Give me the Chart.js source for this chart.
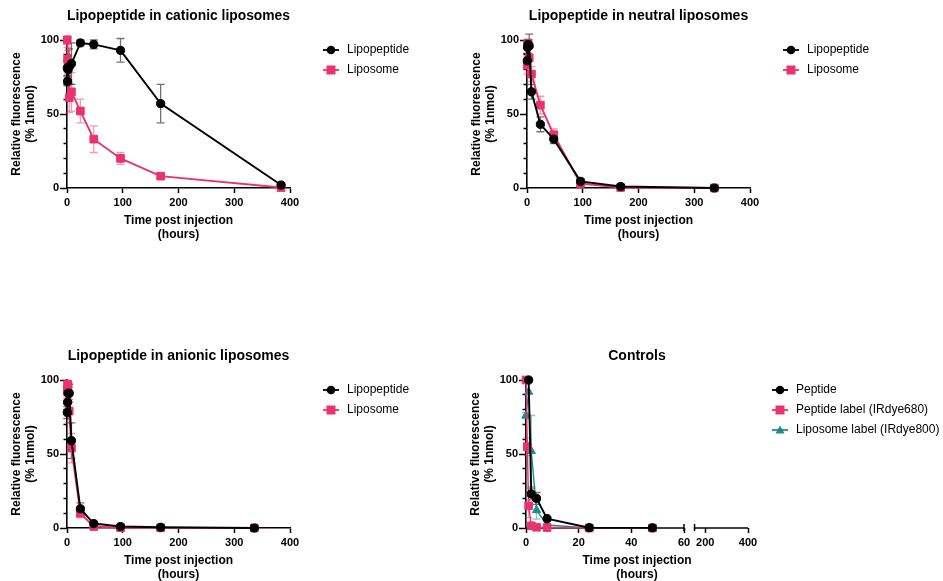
<!DOCTYPE html>
<html>
<head>
<meta charset="utf-8">
<script src="https://cdn.jsdelivr.net/npm/chart.js@4.4.1/dist/chart.umd.min.js"></script>
<style>
  body { margin: 0; background: #fff; width: 943px; height: 581px; position: relative; overflow: hidden; }
  canvas { position: absolute; }
</style>
</head>
<body>
<canvas id="cationic" width="470" height="250" style="left:0px;top:0px"></canvas>
<canvas id="neutral" width="470" height="250" style="left:460px;top:0px"></canvas>
<canvas id="anionic" width="470" height="250" style="left:0px;top:340px"></canvas>
<canvas id="controls" width="484" height="250" style="left:459px;top:340px"></canvas>
<script>
// time points (hours)
const hoursCationic = [0.5, 1, 2, 4, 8, 24, 48, 96, 168, 384];
const hours = [0.5, 1, 2, 4, 8, 24, 48, 96, 168, 336];
const hoursControls = [0, 0.5, 1, 2, 4, 8, 24, 48];

// cationic liposomes
const cationicLipopeptide = [81, 72, 80, 82, 84, 98, 97, 93, 57, 2];
const cationicLipopeptideSD = [5, 3, 10, 12, 14, 2, 3, 8, 13, 1];
const cationicLiposome = [100, 87, 85, 61, 65, 52, 33, 20, 8, 0.3];
const cationicLiposomeSD = [3, 8, 8, 10, 13, 8, 9, 4, 1.5, 0.5];

// neutral liposomes
const neutralLipopeptide = [86, 95, 97, 96, 65, 43, 33, 4.5, 1, 0];
const neutralLipopeptideSD = [5, 4, 3, 8, 5, 5, 3, 2, 0.5, 0.3];
const neutralLiposome = [83, 97, 98, 88, 77, 56, 36, 3, 0.3, 0];
const neutralLiposomeSD = [6, 3, 2, 10, 5, 6, 4, 1.5, 0.3, 0.2];

// anionic liposomes
const anionicLipopeptide = [78, 85, 91, 91, 59, 13, 3, 1, 0.5, 0];
const anionicLipopeptideSD = [4, 5, 5, 6, 12, 4, 1, 0.5, 0.3, 0.2];
const anionicLiposome = [93, 97, 96, 79, 54, 10, 1, 0.2, 0.1, 0];
const anionicLiposomeSD = [5, 3, 3, 8, 10, 3, 0.5, 0.2, 0.1, 0.1];

// controls
const peptide = [null, null, 100, 23, 20, 6.3, 0.2, 0.1];
const peptideSD = [0, 0, 0, 4, 4, 1, 0, 0];
const peptideLabel = [100, 55, 15, 1.5, 0.5, 0.3, 0, 0];
const peptideLabelSD = [0, 6, 8, 1, 0.3, 0.2, 0, 0];
const liposomeLabel = [76, null, 92, 52, 12, 2, 0, 0];
const liposomeLabelSD = [2, 0, 0, 24, 6, 1, 0, 0];

const xTicks = [0, 100, 200, 300, 400];
const xTicksControls = [0, 20, 40, 60, 200, 400];
const yTicks = [0, 50, 100];

const PINK = "#e8336d", TEAL = "#1f8c8c";
const FONT = "'Liberation Sans', Arial, sans-serif";

// broken x axis of the controls panel: 0-60, then 150-400 squeezed
const axisBreak = { lowMax: 60, highMin: 150, highMax: 400, gap: 4, highSpan: 20.3 };
function toAxis(v) {
  if (v <= axisBreak.lowMax) return v;
  return axisBreak.lowMax + axisBreak.gap +
    (v - axisBreak.highMin) * axisBreak.highSpan / (axisBreak.highMax - axisBreak.highMin);
}

function icon(color, shape) {
  const c = document.createElement("canvas");
  c.width = 20; c.height = 12;
  const g = c.getContext("2d");
  g.strokeStyle = color; g.fillStyle = color; g.lineWidth = 1.8;
  g.beginPath(); g.moveTo(2, 6); g.lineTo(18, 6); g.stroke();
  g.beginPath();
  if (shape === "rect") g.rect(5.5, 1.5, 9, 9);
  else if (shape === "triangle") { g.moveTo(10, 1.5); g.lineTo(14.5, 9.5); g.lineTo(5.5, 9.5); g.closePath(); }
  else g.arc(10, 6, 4.3, 0, Math.PI * 2);
  g.fill();
  return c;
}

function series(label, xs, ys, sd, color, shape, sdColor, width) {
  return {
    label: label,
    data: xs.map((x, i) => ({ x: x, y: ys[i] })),
    sd: sd,
    sdColor: sdColor,
    legendIcon: icon(color, shape),
    borderColor: color,
    backgroundColor: color,
    pointBackgroundColor: color,
    pointBorderColor: color,
    pointBorderWidth: 1,
    pointStyle: shape,
    pointRadius: shape === "rect" ? 5.4 : shape === "triangle" ? 4.8 : 4.1,
    borderWidth: width || 1.9,
    spanGaps: true,
    clip: false,
    tension: 0,
  };
}

// mean +/- SD bars, drawn under the markers
const errorBars = {
  id: "errorBars",
  beforeDatasetsDraw(chart) {
    const ctx = chart.ctx, yS = chart.scales.y;
    chart.data.datasets.forEach((ds, di) => {
      const meta = chart.getDatasetMeta(di);
      ctx.save();
      ctx.strokeStyle = ds.sdColor;
      ctx.lineWidth = 1.3;
      meta.data.forEach((pt, i) => {
        const d = ds.data[i], e = ds.sd[i];
        if (d.y == null || !e) return;
        const top = yS.getPixelForValue(d.y + e);
        const bot = yS.getPixelForValue(Math.max(d.y - e, 0));
        ctx.beginPath();
        ctx.moveTo(pt.x, top); ctx.lineTo(pt.x, bot);
        ctx.moveTo(pt.x - 4, top); ctx.lineTo(pt.x + 4, top);
        ctx.moveTo(pt.x - 4, bot); ctx.lineTo(pt.x + 4, bot);
        ctx.stroke();
      });
      ctx.restore();
    });
  },
};

// fixed legend width and offset
const legendPlacer = {
  id: "legendPlacer",
  beforeUpdate(chart, args, opts) {
    const lg = chart.legend;
    if (!lg || lg._placed) return;
    lg._placed = true;
    const fit = lg.fit, draw = lg.draw;
    lg.fit = function () { fit.call(this); this.width = opts.width; };
    lg.draw = function () {
      this.ctx.save();
      this.ctx.translate(opts.dx, opts.dy);
      draw.call(this);
      this.ctx.restore();
    };
  },
};

// axis line of the controls panel, in two pieces
const brokenAxis = {
  id: "brokenAxis",
  beforeDatasetsDraw(chart) {
    const x = chart.scales.x, ctx = chart.ctx, y0 = chart.chartArea.bottom;
    ctx.save();
    ctx.strokeStyle = "#000";
    ctx.lineWidth = 1.5;
    [[0, axisBreak.lowMax], [toAxis(axisBreak.highMin), toAxis(axisBreak.highMax)]].forEach(([a, b]) => {
      ctx.beginPath();
      ctx.moveTo(x.getPixelForValue(a) - 0.75, y0);
      ctx.lineTo(x.getPixelForValue(b), y0);
      ctx.stroke();
    });
    [axisBreak.lowMax, toAxis(axisBreak.highMin)].forEach((v) => {
      const p = x.getPixelForValue(v);
      ctx.beginPath(); ctx.moveTo(p, y0 - 4); ctx.lineTo(p, y0 + 3); ctx.stroke();
    });
    ctx.restore();
  },
};

function yScale() {
  return {
    type: "linear",
    min: 0,
    max: 100,
    afterFit: (s) => { s.width = 67; },
    border: { color: "#000", width: 1.6 },
    grid: {
      drawOnChartArea: false,
      tickLength: 7,
      tickColor: "#000",
      tickWidth: 1.5,
      tickBorderDash: (c) => (c.tick && c.tick.value % 50 ? [0, 3.5, 20, 0] : []),
    },
    ticks: {
      stepSize: 10,
      autoSkip: false,
      padding: 1,
      color: "#000",
      font: { family: FONT, size: 11, weight: "bold" },
      callback: (v) => (yTicks.includes(v) ? v : ""),
    },
    title: {
      display: true,
      text: ["Relative fluorescence", "(% 1nmol)"],
      color: "#000",
      font: { family: FONT, size: 12, weight: "bold" },
      padding: { top: 9, bottom: 0 },
    },
  };
}

function xScale(tickValues, broken) {
  return {
    type: "linear",
    min: 0,
    max: broken ? toAxis(axisBreak.highMax) : 400,
    afterFit: (s) => { s.height = 56; },
    afterBuildTicks: (s) => {
      s.ticks = tickValues.map((v) => ({ value: broken ? toAxis(v) : v }));
    },
    border: { display: !broken, color: "#000", width: 1.6 },
    grid: { drawOnChartArea: false, tickLength: 5, tickColor: "#000", tickWidth: 1.5 },
    ticks: {
      autoSkip: false,
      maxRotation: 0,
      padding: 3,
      color: "#000",
      font: { family: FONT, size: 11, weight: "bold" },
      callback: (v, i) => tickValues[i],
    },
    title: {
      display: true,
      text: ["Time post injection", "(hours)"],
      color: "#000",
      font: { family: FONT, size: 12, weight: "bold" },
      padding: { top: 0, bottom: 2 },
    },
  };
}

function makeChart(id, title, datasets, opts) {
  const plugins = [errorBars, legendPlacer];
  if (opts.broken) plugins.push(brokenAxis);
  return new Chart(id, {
    type: "line",
    data: { datasets: datasets },
    plugins: plugins,
    options: {
      responsive: false,
      animation: false,
      devicePixelRatio: 1,
      events: [],
      layout: { padding: { left: 0, top: 0, right: 0, bottom: 6 } },
      scales: {
        x: xScale(opts.ticks, opts.broken),
        y: yScale(),
      },
      plugins: {
        tooltip: { enabled: false },
        title: {
          display: true,
          text: title,
          fullSize: false,
          color: "#000",
          font: { family: FONT, size: 14, weight: "bold" },
          padding: { top: 8, bottom: 15.2 },
        },
        legend: {
          position: "right",
          align: "start",
          fullSize: false,
          labels: {
            usePointStyle: true,
            pointStyleWidth: 20,
            padding: 8,
            color: "#000",
            font: { family: FONT, size: 12 },
            generateLabels: (chart) =>
              Chart.defaults.plugins.legend.labels.generateLabels(chart).map((item) => {
                item.pointStyle = chart.data.datasets[item.datasetIndex].legendIcon;
                return item;
              }),
          },
        },
        legendPlacer: opts.legend,
      },
    },
  });
}

const BLACK_SD = "rgba(0,0,0,0.55)", PINK_SD = "rgba(232,51,109,0.5)", TEAL_SD = "rgba(31,140,140,0.5)";

makeChart("cationic", "Lipopeptide in cationic liposomes", [
  series("Lipopeptide", hoursCationic, cationicLipopeptide, cationicLipopeptideSD, "#000", "circle", BLACK_SD),
  series("Liposome", hoursCationic, cationicLiposome, cationicLiposomeSD, PINK, "rect", PINK_SD),
], { ticks: xTicks, legend: { width: 180, dx: 23, dy: -4 } });

makeChart("neutral", "Lipopeptide in neutral liposomes", [
  series("Lipopeptide", hours, neutralLipopeptide, neutralLipopeptideSD, "#000", "circle", BLACK_SD),
  series("Liposome", hours, neutralLiposome, neutralLiposomeSD, PINK, "rect", PINK_SD),
], { ticks: xTicks, legend: { width: 180, dx: 23, dy: -4 } });

makeChart("anionic", "Lipopeptide in anionic liposomes", [
  series("Lipopeptide", hours, anionicLipopeptide, anionicLipopeptideSD, "#000", "circle", BLACK_SD),
  series("Liposome", hours, anionicLiposome, anionicLiposomeSD, PINK, "rect", PINK_SD),
], { ticks: xTicks, legend: { width: 180, dx: 23, dy: -4 } });

makeChart("controls", "Controls", [
  series("Peptide", hoursControls, peptide, peptideSD, "#000", "circle", BLACK_SD),
  series("Peptide label (IRdye680)", hoursControls, peptideLabel, peptideLabelSD, PINK, "rect", PINK_SD, 1.4),
  series("Liposome label (IRdye800)", hoursControls, liposomeLabel, liposomeLabelSD, TEAL, "triangle", TEAL_SD, 1.4),
], { ticks: xTicksControls, broken: true, legend: { width: 195, dx: 14, dy: -4 } });
</script>
</body>
</html>
